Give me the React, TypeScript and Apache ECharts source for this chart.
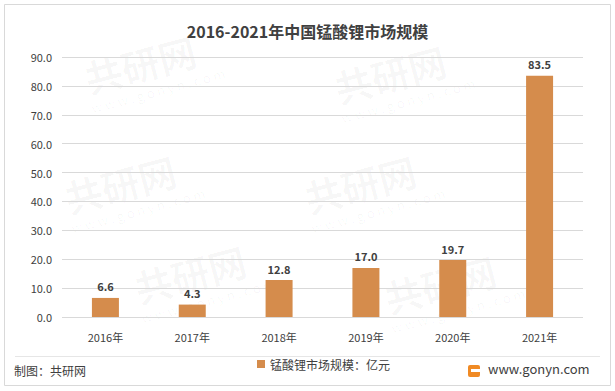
import React, { useEffect, useRef } from "react";
import * as echarts from "echarts";

const categories = ["2016年", "2017年", "2018年", "2019年", "2020年", "2021年"];
const values = [6.6, 4.3, 12.8, 17.0, 19.7, 83.5];
const seriesName = "锰酸锂市场规模：亿元";
const titleText = "2016-2021年中国锰酸锂市场规模";
const sourceText = "制图：共研网";
const siteText = "www.gonyn.com";

const FONT = "'Noto Sans CJK SC', 'Noto Sans', sans-serif";

export default function App() {
  const ref = useRef<HTMLDivElement>(null);
  useEffect(() => {
    if (!ref.current) return;
    const chart = echarts.init(ref.current, null, { renderer: "svg" });
    const wm = (x: number, y: number) => [
      {
        type: "text",
        x,
        y,
        rotation: 0.26,
        style: { text: "共研网", font: "bold 38px " + FONT, fill: "rgba(0,0,0,0.03)" },
        z: -1,
      },
      {
        type: "text",
        x: x + 10,
        y: y + 42,
        rotation: 0.26,
        style: { text: "w w w . g o n y n . c o m", font: "13px " + FONT, fill: "rgba(0,0,0,0.035)" },
        z: -1,
      },
    ];
    chart.setOption({
      animation: false,
      backgroundColor: "#ffffff",
      title: {
        text: titleText,
        left: "center",
        top: 18,
        textStyle: { fontFamily: FONT, fontSize: 16, fontWeight: "bold", color: "#404040" },
      },
      legend: {
        bottom: 16,
        left: 252,
        itemWidth: 8,
        itemHeight: 8,
        itemGap: 4,
        icon: "rect",
        textStyle: { fontFamily: FONT, fontSize: 12, color: "#404040" },
        data: [seriesName],
      },
      grid: { left: 62, right: 32, top: 57, bottom: 74 },
      xAxis: {
        type: "category",
        data: categories,
        axisLine: { show: false },
        axisTick: { show: false },
        axisLabel: { fontFamily: FONT, fontSize: 11, color: "#404040", margin: 14 },
      },
      yAxis: {
        type: "value",
        min: 0,
        max: 90,
        interval: 10,
        axisLine: { show: false },
        axisTick: { show: false },
        axisLabel: {
          fontFamily: FONT,
          fontSize: 11,
          color: "#404040",
          margin: 10,
          formatter: (v: number) => v.toFixed(1),
        },
        splitLine: { lineStyle: { color: "#d9d9d9", width: 1 } },
      },
      series: [
        {
          name: seriesName,
          type: "bar",
          data: values,
          barWidth: 27,
          itemStyle: { color: "#D58C4C" },
          label: {
            show: true,
            position: "top",
            distance: 6,
            fontFamily: FONT,
            fontSize: 11,
            fontWeight: "bold",
            color: "#404040",
            formatter: (p: any) => Number(p.value).toFixed(1),
          },
        },
      ],
      graphic: [
        ...wm(80, 60),
        ...wm(330, 70),
        ...wm(60, 180),
        ...wm(300, 180),
        ...wm(130, 270),
        ...wm(380, 280),
        {
          type: "rect",
          shape: { x: 4.5, y: 4.5, width: 606, height: 381 },
          style: { fill: "none", stroke: "#d9d9d9", lineWidth: 1 },
        },
        {
          type: "line",
          shape: { x1: 15, y1: 356.5, x2: 600, y2: 356.5 },
          style: { stroke: "#e6e6e6", lineWidth: 1 },
        },
        {
          type: "text",
          x: 14,
          y: 364,
          style: { text: sourceText, font: "12px " + FONT, fill: "#404040" },
        },
        {
          type: "rect",
          shape: { x: 468, y: 365, width: 12, height: 12, r: 2 },
          style: { fill: "#F08A24" },
        },
        {
          type: "rect",
          shape: { x: 471, y: 369, width: 9, height: 3 },
          style: { fill: "#ffffff" },
        },
        {
          type: "text",
          x: 488,
          y: 362,
          style: { text: siteText, font: "13px " + FONT, fill: "#404040" },
        },
      ],
    });
    return () => chart.dispose();
  }, []);
  return (
    <div
      ref={ref}
      style={{ position: "fixed", left: 0, top: 0, width: 615, height: 391 }}
    />
  );
}
